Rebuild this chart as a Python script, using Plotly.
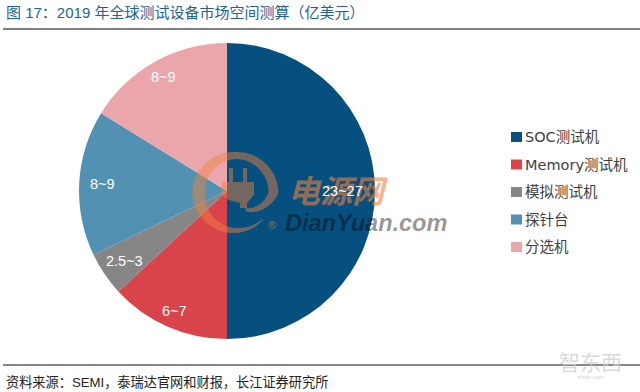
import math
import plotly.graph_objects as go

categories = ["SOC测试机", "Memory测试机", "模拟测试机", "探针台", "分选机"]
values = [25, 6.55, 2.4, 7.95, 8.1]
labels = ["23~27", "6~7", "2.5~3", "8~9", "8~9"]
colors = ["#05507F", "#D9444A", "#868686", "#5391B3", "#EBA6AC"]
label_radius = [0.78, 0.885, 0.84, 0.845, 0.88]

W, H = 640, 392
FONT = "Liberation Sans, Noto Sans CJK SC, sans-serif"
LEGEND_FONT = "DejaVu Sans, Noto Sans CJK SC, sans-serif"
CX, CY, R = 227, 191, 148
px = lambda x: x / W
py = lambda y: 1 - y / H

fig = go.Figure(go.Pie(
    labels=categories, values=values, textinfo="none",
    marker=dict(colors=colors, line=dict(width=0)),
    sort=False, direction="clockwise", rotation=0, showlegend=False,
    domain=dict(x=[px(CX - R), px(CX + R)], y=[py(CY + R), py(CY - R)]),
))

shapes, annotations = [], []

def text(x, y, s, size, color, anchor="left", family=FONT):
    annotations.append(dict(x=px(x), y=py(y), xref="paper", yref="paper", text=s, showarrow=False,
                            xanchor=anchor, yanchor="middle", font=dict(size=size, color=color, family=family)))

def poly(points, fill):
    path = "M " + " L ".join(f"{px(x):.5f} {py(y):.5f}" for x, y in points) + " Z"
    shapes.append(dict(type="path", xref="paper", yref="paper", layer="above", path=path,
                       fillcolor=fill, line=dict(width=0)))

# rules and captions
for y, c, w in [(29, "#808080", 2), (365, "#606060", 1.5)]:
    shapes.append(dict(type="line", xref="paper", yref="paper", x0=px(3), x1=1, y0=py(y), y1=py(y),
                       line=dict(color=c, width=w)))
text(4, 12, "图 17：2019 年全球测试设备市场空间测算（亿美元）", 15, "#1F6391")
text(4, 382, "资料来源：SEMI，泰瑞达官网和财报，长江证券研究所", 13.2, "#222222")

# legend
for i, (name, c) in enumerate(zip(categories, colors)):
    y = 137 + i * 27.5
    shapes.append(dict(type="rect", xref="paper", yref="paper", x0=px(511), x1=px(522),
                       y0=py(y + 5), y1=py(y - 5), fillcolor=c, line=dict(width=0)))
    text(523, y, name, 14.5, "#404040", family=LEGEND_FONT)

# watermark logo: a spiral ring with a plug
mark = "rgba(240,130,60,0.47)"
knots = [(0, 1), (0.12, 5), (0.36, 13), (0.6, 7), (0.84, 10), (1, 4)]

def thickness(t):
    for (a0, b0), (a1, b1) in zip(knots, knots[1:]):
        if t <= a1:
            return b0 + (b1 - b0) * (t - a0) / (a1 - a0)
    return knots[-1][1]

outer, inner = [], []
for k in range(0, 121):
    t = k / 120
    a = math.radians(45 + t * 375)
    r = 37.5 if t < 0.84 else 37.5 - (t - 0.84) / 0.16 * 18
    th = thickness(t)
    outer.append((236 + (r + th / 2) * math.cos(a), 193 + (r + th / 2) * math.sin(a)))
    inner.append((236 + (r - th / 2) * math.cos(a), 193 + (r - th / 2) * math.sin(a)))
poly(outer + inner[::-1], mark)
poly([(222, 182), (254, 182), (254, 195), (247, 203), (247, 208), (240, 208), (240, 203), (229, 200), (222, 195)], mark)
poly([(229, 168), (233, 168), (233, 182), (229, 182)], mark)
poly([(243, 168), (247, 168), (247, 182), (243, 182)], mark)
text(272, 225, "®", 11, "rgba(240,130,60,0.6)", anchor="center")
text(338, 192, "<b><i>电源网</i></b>", 32, "rgba(240,130,60,0.6)", anchor="center")
text(366, 223, "<b><i>DianYuan.com</i></b>", 23.5, "rgba(0,0,0,0.42)", anchor="center")
text(590, 362, "智东西", 21, "rgba(205,205,205,0.75)", anchor="center")
text(590, 377, "zhidx.com", 6, "rgba(205,205,205,0.9)", anchor="center")

# slice labels on top of the watermark
total = sum(values)
cum = 0
for v, lab, f in zip(values, labels, label_radius):
    a = 2 * math.pi * (cum + v / 2) / total
    cum += v
    text(CX + f * R * math.sin(a), CY - f * R * math.cos(a), lab, 14.5, "white", anchor="center")

fig.update_layout(width=W, height=H, margin=dict(l=0, r=0, t=0, b=0),
                  paper_bgcolor="white", shapes=shapes, annotations=annotations)
fig.write_html("out.html", config=dict(displayModeBar=False),
               post_script="document.body.style.margin='0';")
